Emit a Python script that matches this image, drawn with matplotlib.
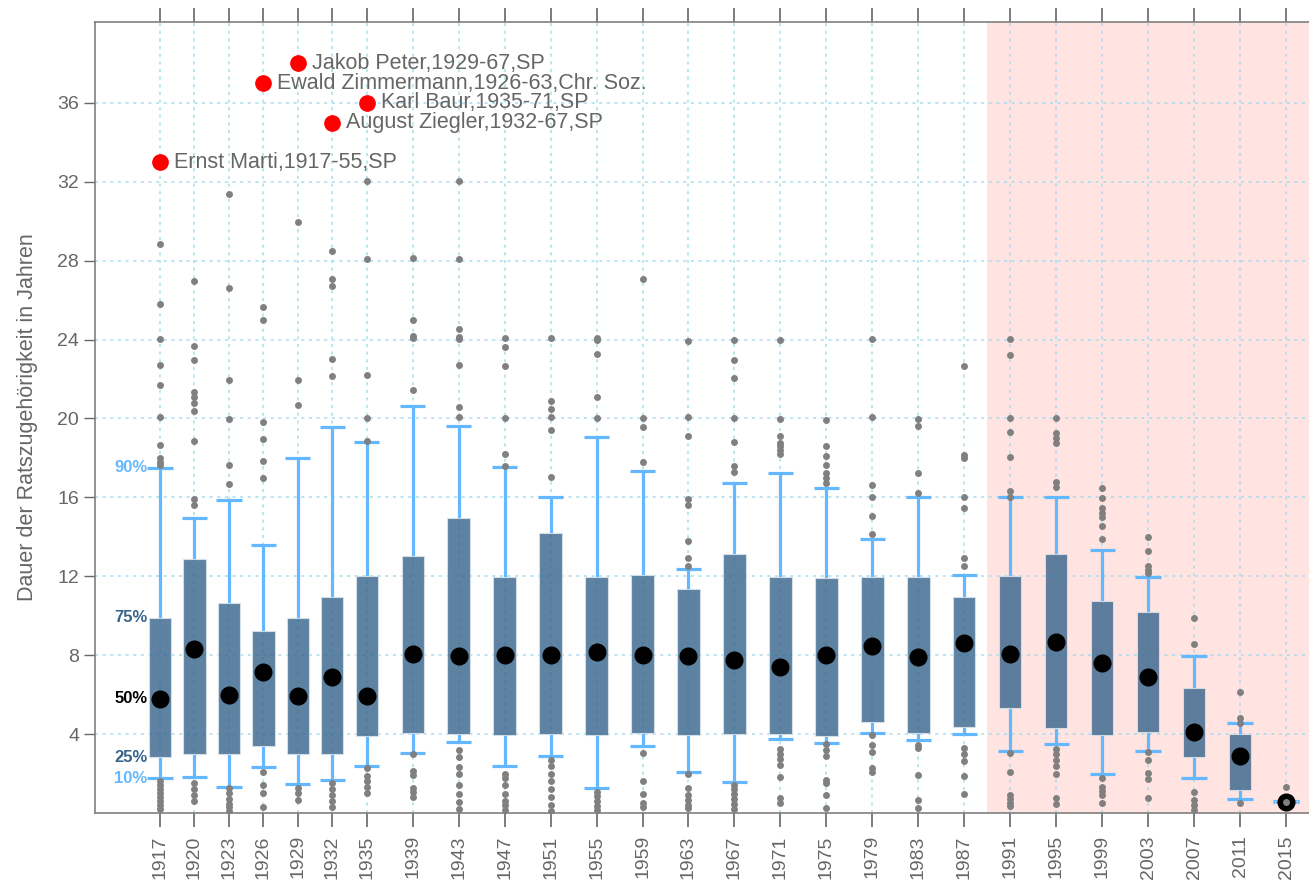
"""Boxplots of council membership duration per election year."""

import matplotlib
matplotlib.use('Agg')
import matplotlib.pyplot as plt

years = [1917, 1920, 1923, 1926, 1929, 1932, 1935, 1939, 1943, 1947, 1951,
         1955, 1959, 1963, 1967, 1971, 1975, 1979, 1983, 1987, 1991, 1995,
         1999, 2003, 2007, 2011, 2015]

p10 = [1.76, 1.84, 1.34, 2.35, 1.45, 1.65, 2.4, 3.02, 3.6, 2.4, 2.89, 1.25,
       3.42, 2.06, 1.59, 3.77, 3.55, 4.04, 3.7, 3.99, 3.16, 3.5, 2.0, 3.14,
       1.75, 0.73, 0.57]
p25 = [2.82, 2.97, 2.99, 3.38, 2.97, 2.97, 3.92, 4.06, 4.0, 3.97, 4.02, 3.97,
       4.06, 3.94, 4.02, 3.98, 3.9, 4.61, 4.06, 4.36, 5.31, 4.31, 3.96, 4.12,
       2.82, 1.18, 0.5]
p50 = [5.8, 8.29, 5.96, 7.16, 5.93, 6.9, 5.93, 8.07, 7.98, 7.99, 7.99, 8.14,
       8.01, 7.96, 7.78, 7.4, 7.99, 8.49, 7.91, 8.6, 8.06, 8.67, 7.59, 6.91,
       4.11, 2.89, 0.55]
p75 = [9.9, 12.86, 10.67, 9.23, 9.87, 10.95, 12.02, 13.05, 14.97, 11.97,
       14.21, 11.97, 12.05, 11.36, 13.13, 11.98, 11.92, 11.97, 11.97, 10.95,
       12.02, 13.15, 10.73, 10.19, 6.34, 3.99, 0.6]
p90 = [17.5, 14.94, 15.89, 13.6, 18.0, 19.57, 18.81, 20.61, 19.62, 17.56,
       16.02, 19.05, 17.36, 12.39, 16.71, 17.22, 16.46, 13.88, 16.02, 12.07,
       16.0, 16.0, 13.31, 11.97, 7.98, 4.55, 0.6]

outliers = [
  [28.84, 25.8, 24.04, 22.7, 21.7, 20.08, 18.66, 18.0, 17.8, 17.65,
   1.6, 1.4, 1.2, 1.0, 0.8, 0.6, 0.4, 0.2],
  [26.98, 23.7, 22.97, 21.33, 21.11, 20.78, 20.4, 18.86, 15.9, 15.6,
   1.5, 1.2, 0.9, 0.6],
  [31.36, 26.6, 21.97, 19.96, 17.66, 16.67, 1.27, 1.0, 0.7, 0.45, 0.3, 0.1],
  [25.66, 24.97, 19.81, 18.98, 17.83, 16.97, 2.1, 1.42, 1.0, 0.32],
  [29.97, 21.97, 20.69, 1.25, 1.0, 0.66],
  [28.5, 27.05, 26.74, 23.0, 22.16, 1.5, 1.2, 0.9, 0.6, 0.3],
  [32.06, 28.09, 22.2, 20.05, 18.86, 2.28, 1.9, 1.6, 1.3, 1.0],
  [28.13, 24.97, 24.19, 24.1, 21.45, 2.97, 2.13, 1.93, 1.28, 1.08, 0.83],
  [32.06, 28.06, 24.52, 24.14, 24.02, 22.72, 20.6, 20.08,
   3.19, 2.82, 2.35, 1.98, 1.42, 0.96, 0.57, 0.19],
  [24.07, 23.6, 22.64, 20.01, 18.19, 17.6, 2.0, 1.75, 1.4, 0.98, 0.6, 0.4, 0.15],
  [24.07, 20.89, 20.49, 20.07, 19.44, 17.05,
   2.69, 2.4, 2.0, 1.6, 1.2, 0.8, 0.4, 0.1],
  [24.07, 23.99, 23.29, 21.08, 20.05, 1.08, 0.85, 0.6, 0.35, 0.15],
  [27.05, 20.01, 19.57, 17.81, 3.05, 1.62, 0.96, 0.52, 0.32],
  [23.95, 20.09, 19.12, 15.94, 15.62, 13.79, 12.91, 12.54,
   1.98, 1.28, 0.91, 0.66, 0.41, 0.24],
  [24.0, 22.94, 22.06, 20.0, 18.81, 17.6, 17.31,
   1.42, 1.2, 0.95, 0.7, 0.45, 0.2],
  [23.97, 19.96, 19.12, 18.78, 18.58, 18.4, 18.22,
   3.25, 3.0, 2.75, 2.45, 1.85, 0.75, 0.5],
  [19.94, 18.63, 18.1, 17.65, 17.24, 16.97, 16.71,
   3.5, 3.2, 2.9, 1.67, 1.54, 0.91, 0.24],
  [24.02, 20.09, 16.63, 16.04, 15.08, 14.13, 3.96, 3.45, 3.11, 2.27, 2.1],
  [19.98, 19.62, 17.25, 16.21, 3.45, 3.3, 1.93, 0.66, 0.25],
  [22.68, 18.15, 17.99, 16.04, 15.48, 12.91, 12.54, 3.31, 2.99, 2.65, 1.9, 0.98],
  [24.02, 23.22, 20.01, 19.3, 18.07, 16.34, 16.04, 3.03, 2.08, 0.9, 0.7, 0.5, 0.35],
  [20.05, 19.25, 19.0, 18.75, 16.76, 16.55, 3.22, 2.97, 2.7, 2.37, 1.96, 0.78, 0.46],
  [16.49, 15.95, 15.44, 15.19, 15.02, 14.55, 13.89, 1.75, 1.3, 1.1, 0.91, 0.49],
  [14.0, 13.3, 12.54, 12.32, 12.15, 3.08, 2.69, 2.04, 1.72, 0.78],
  [9.91, 8.58, 1.08, 0.66, 0.41, 0.15],
  [6.11, 4.83, 4.55, 0.49],
  [1.3, 0.55],
]

hl_years = [1917, 1926, 1929, 1932, 1935]
hl_vals = [33, 37, 38, 35, 36]
hl_labels = ['Ernst Marti,1917-55,SP', 'Ewald Zimmermann,1926-63,Chr. Soz.',
             'Jakob Peter,1929-67,SP', 'August Ziegler,1932-67,SP',
             'Karl Baur,1935-71,SP']

pct_labels = ['10%', '25%', '50%', '75%', '90%']

BOX = '#36648B'
WHISK = '#63B8FF'
GREY = '#666666'

plt.rcParams['font.family'] = ['Liberation Sans', 'DejaVu Sans']

fig = plt.figure(figsize=(13.09, 8.82), dpi=100)
ax = fig.add_axes([95 / 1309, 1 - 813 / 882, 1 - 95 / 1309, (813 - 22) / 882])

ax.axvspan(1989, 2017, color='#FFE4E1', zorder=0, lw=0)

bw = 1.95
cw = 2.2
for i, yr in enumerate(years):
  # whiskers and caps
  ax.plot([yr, yr], [p75[i], p90[i]], color=WHISK, lw=2.3, zorder=2,
          solid_capstyle='butt')
  ax.plot([yr, yr], [p10[i], p25[i]], color=WHISK, lw=2.3, zorder=2,
          solid_capstyle='butt')
  ax.plot([yr - cw / 2, yr + cw / 2], [p90[i], p90[i]], color=WHISK, lw=2.3,
          zorder=2, solid_capstyle='butt')
  ax.plot([yr - cw / 2, yr + cw / 2], [p10[i], p10[i]], color=WHISK, lw=2.3,
          zorder=2, solid_capstyle='butt')
  ax.bar(yr, p75[i] - p25[i], bottom=p25[i], width=bw, color=BOX, alpha=0.8,
         edgecolor='#dde6ee', linewidth=0.8, zorder=3)
  ax.plot(yr, p50[i], 'o', color='black', ms=12, zorder=4)
  ax.plot([yr] * len(outliers[i]), outliers[i], 'o', color='#808080', ms=5,
          mec='none', zorder=5)

for yr, v, lab in zip(hl_years, hl_vals, hl_labels):
  ax.plot(yr, v, 'o', color='red', ms=11, zorder=6)
  ax.annotate(lab, (yr, v), xytext=(10, 0), textcoords='offset points',
              va='center', ha='left', fontsize=15.5, color=GREY)

# percentile labels next to the first box
pct_vals = [p10[0], p25[0], p50[0], p75[0], p90[0]]
pct_cols = [WHISK, BOX, 'black', BOX, WHISK]
for lab, v, c in zip(pct_labels, pct_vals, pct_cols):
  ax.text(1915.9, v, lab, ha='right', va='center', fontsize=12,
          fontweight='bold', color=c)

ax.set_xlim(1911.35, 2017)
ax.set_ylim(0, 40.1)
ax.set_xticks(years)
ax.set_xticklabels([str(y) for y in years], rotation=90, fontsize=14,
                   color=GREY)
ax.set_yticks(range(4, 37, 4))
ax.tick_params(axis='y', labelsize=14, labelcolor=GREY, color=GREY,
               length=8, width=1)
ax.tick_params(axis='x', bottom=True, top=True, color=GREY, length=10,
               width=1.2, pad=6)
ax.grid(True, color='#a8dcef', ls=(0, (2, 3)), lw=1.1, zorder=1)
ax.set_axisbelow(True)
for s in ['left', 'bottom', 'top']:
  ax.spines[s].set_color('#808080')
  ax.spines[s].set_linewidth(1.2)
ax.spines['right'].set_visible(False)
ax.set_ylabel('Dauer der Ratszugehörigkeit in Jahren', fontsize=15.5,
              color=GREY, labelpad=14)

fig.savefig('out.png', dpi=100)
